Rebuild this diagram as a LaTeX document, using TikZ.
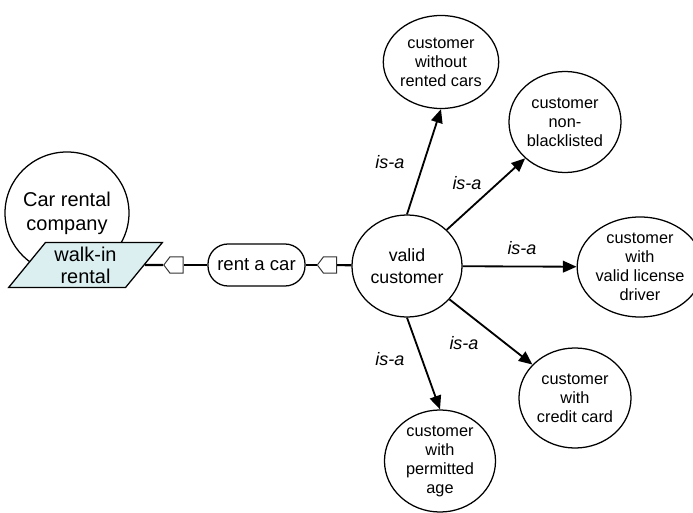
\documentclass[tikz,border=0pt]{standalone}
\usepackage{fontspec}
\setmainfont{Liberation Sans}
\usetikzlibrary{arrows.meta,shapes.geometric,shapes.symbols}
\definecolor{walkin}{HTML}{DBEEF0}

\begin{document}
\begin{tikzpicture}[x=0.025cm,y=-0.025cm,
  concept/.style={draw,ellipse,fill=white,line width=0.9pt,inner sep=0pt,align=center,font=\fontsize{11.6}{13.5}\selectfont},
  plug/.style={draw=black!80,fill=white,signal,signal to=west,signal pointer angle=106,minimum width=0.48cm,minimum height=0.41cm,inner sep=0pt,line width=0.7pt},
  isa/.style={font=\fontsize{12.8}{14}\selectfont\itshape},
  >={Triangle[length=3.4mm,width=2.9mm]}]
\useasboundingbox (0,0) rectangle (693,513);
\node[concept,minimum width=3.05cm,minimum height=3.05cm,font=\fontsize{14.2}{17}\selectfont] (crc) at (67,213) {Car rental\\company};
\node[draw,trapezium,trapezium left angle=52,trapezium right angle=128,trapezium stretches,fill=walkin,line width=0.9pt,minimum width=3.875cm,minimum height=1.125cm,inner sep=0pt,align=center,font=\fontsize{14.2}{15.6}\selectfont] (wr) at (85.5,265) {walk-in\\rental};
\node[plug] (m1) at (176.5,265) {};
\node[draw,rounded corners=0.5cm,minimum width=2.425cm,minimum height=1.05cm,inner sep=0pt,line width=0.9pt,font=\fontsize{13.2}{15}\selectfont] (rc) at (256.5,265) {rent a car};
\node[plug] (m2) at (330,265) {};
\node[concept,minimum width=2.75cm,minimum height=2.55cm,font=\fontsize{12.6}{16}\selectfont] (vc) at (407,266) {valid\\customer};
\node[concept,minimum width=2.775cm,minimum height=2.325cm] (wo) at (441,62) {customer\\without\\rented cars};
\node[concept,minimum width=2.8cm,minimum height=2.525cm] (nb) at (565,122) {customer\\non-\\blacklisted};
\node[concept,minimum width=2.65cm,minimum height=2.5cm] (vl) at (640,267) {customer\\with\\valid license\\driver};
\node[concept,minimum width=2.8cm,minimum height=2.5cm] (cc) at (575,398) {customer\\with\\credit card};
\node[concept,minimum width=2.775cm,minimum height=2.55cm] (pa) at (440,461) {customer\\with\\permitted\\age};
\draw[line width=1.5pt] (wr) -- (m1);\draw[line width=1.5pt] (m1) -- (rc);
\draw[line width=1.5pt] (rc) -- (m2);\draw[line width=1.5pt] (m2) -- (vc);
\draw[->,line width=1.3pt] (vc.north) -- (wo.south);
\draw[->,line width=1.3pt] (vc) -- (nb);
\draw[->,line width=1.3pt] (vc) -- (vl);
\draw[->,line width=1.3pt] (vc) -- (cc);
\draw[->,line width=1.3pt] (vc.south) -- (pa.north);
\node[isa] (i1) at (390,162) {is-a};
\node[isa] (i2) at (467,183) {is-a};
\node[isa] (i3) at (522,248) {is-a};
\node[isa] (i4) at (464,343) {is-a};
\node[isa] (i5) at (390,359) {is-a};
\end{tikzpicture}
\end{document}
